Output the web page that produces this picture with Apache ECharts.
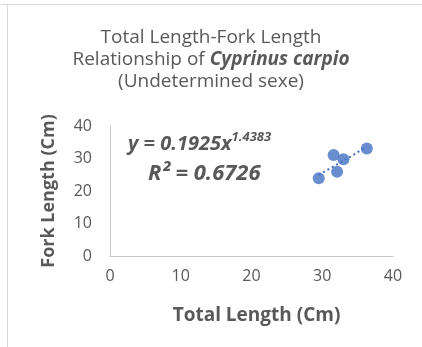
<!DOCTYPE html>
<html>
<head>
<meta charset="utf-8">
<script src="https://cdn.jsdelivr.net/npm/echarts@6/dist/echarts.min.js"></script>
<style>
html,body{margin:0;padding:0;background:#fff;}
#chart{width:422px;height:347px;}
</style>
</head>
<body>
<div id="chart"></div>
<script>
// Data
var totalLength = [29.5, 31.6, 33.0, 32.1, 36.3];
var forkLength  = [23.9, 31.1, 29.8, 25.9, 33.1];
// Dotted power trendline
var trendX = [29.5, 31.0, 32.5, 34.0, 35.5, 36.3];
var trendY = [25.0, 26.8, 28.7, 30.6, 32.6, 33.7];
var xTicks = [0, 10, 20, 30, 40];
var yTicks = [0, 10, 20, 30, 40];

var FONT = '"Open Sans", sans-serif';
var GRAY = '#595959';

var chart = echarts.init(document.getElementById('chart'), null, {renderer: 'canvas'});
chart.setOption({
  backgroundColor: '#fff',
  animation: false,
  title: {
    text: 'Total Length-Fork Length\nRelationship of {b|Cyprinus carpio}\n(Undetermined sexe)',
    left: 'center',
    top: 22,
    textStyle: {
      fontFamily: FONT, fontSize: 19, fontWeight: 'normal', color: GRAY, lineHeight: 22,
      rich: { b: {fontFamily: FONT, fontSize: 19, fontWeight: 'bold', fontStyle: 'italic', color: GRAY, lineHeight: 22} }
    }
  },
  grid: { left: 110, right: 29, top: 126, bottom: 91, containLabel: false },
  xAxis: {
    type: 'value', min: xTicks[0], max: xTicks[xTicks.length-1], interval: 10,
    name: 'Total Length (Cm)', nameLocation: 'middle', nameGap: 50,
    nameTextStyle: {fontFamily: FONT, fontSize: 19, fontWeight: 'bold', color: GRAY, padding: [0,0,0,10]},
    axisLine: {lineStyle: {color: '#c8c8c8', width: 1}},
    axisTick: {show: false},
    splitLine: {show: false},
    axisLabel: {fontFamily: FONT, fontSize: 16, color: GRAY, margin: 12}
  },
  yAxis: {
    type: 'value', min: yTicks[0], max: yTicks[yTicks.length-1], interval: 10,
    name: 'Fork Length (Cm)', nameLocation: 'middle', nameGap: 52,
    nameTextStyle: {fontFamily: FONT, fontSize: 18, fontWeight: 'bold', color: GRAY},
    axisLine: {show: true, lineStyle: {color: '#c8c8c8', width: 1}},
    axisTick: {show: false},
    splitLine: {show: false},
    axisLabel: {fontFamily: FONT, fontSize: 16, color: GRAY, margin: 18}
  },
  series: [
    {
      type: 'line', data: trendX.map(function(x, i){ return [x, trendY[i]]; }),
      showSymbol: false, smooth: false, silent: true,
      lineStyle: {color: '#4472C4', width: 2, type: [2, 3]}, z: 2
    },
    {
      type: 'scatter', data: totalLength.map(function(x, i){ return [x, forkLength[i]]; }),
      symbol: 'circle', symbolSize: 12,
      itemStyle: {color: '#4472C4'}, z: 3
    }
  ],
  graphic: [
    {type: 'line', shape: {x1: 0.5, y1: 4.5, x2: 422, y2: 4.5}, style: {stroke: '#d9d9d9', lineWidth: 1}},
    {type: 'line', shape: {x1: 7.5, y1: 4.5, x2: 7.5, y2: 347}, style: {stroke: '#d9d9d9', lineWidth: 1}},
    {
      type: 'text', left: 128, top: 131,
      style: {
        text: '{a|y = 0.1925x}{s|1.4383}',
        rich: {
          a: {fontFamily: FONT, fontSize: 20, fontWeight: 'bold', fontStyle: 'italic', fill: GRAY, verticalAlign: 'bottom'},
          s: {fontFamily: FONT, fontSize: 13, fontWeight: 'bold', fontStyle: 'italic', fill: GRAY, verticalAlign: 'top', padding: [0,0,10,0]}
        }
      }
    },
    {
      type: 'text', left: 148, top: 163,
      style: {
        text: 'R² = 0.6726',
        font: 'italic bold 22px "Open Sans", sans-serif',
        fill: GRAY
      }
    }
  ]
});
</script>
</body>
</html>
